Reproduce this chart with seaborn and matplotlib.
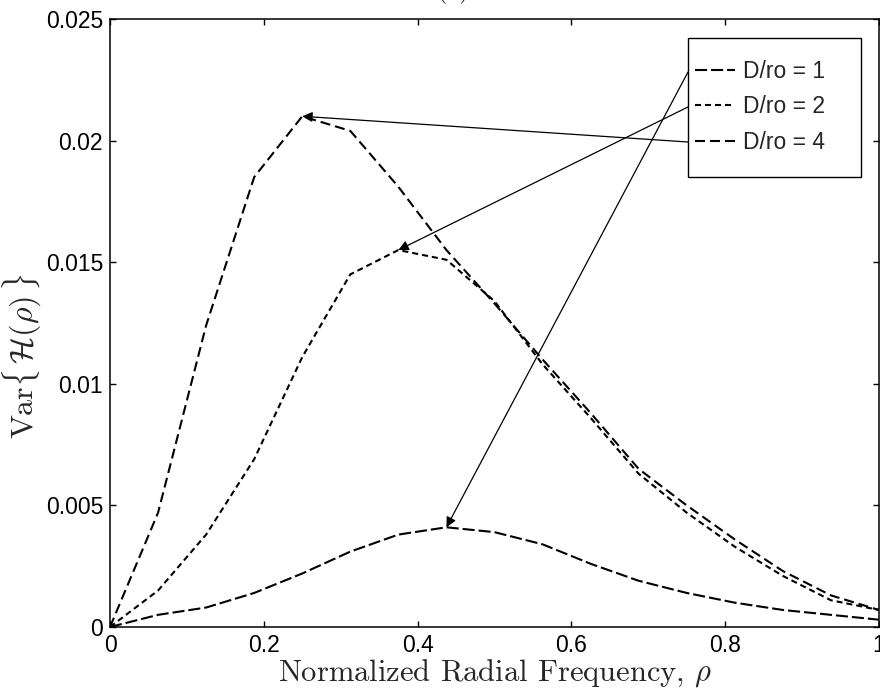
import matplotlib
matplotlib.use("Agg")
import matplotlib.pyplot as plt
from matplotlib.patches import Rectangle
from matplotlib.ticker import FuncFormatter
import seaborn as sns
import pandas as pd
import numpy as np

# values (17 samples, step 1/16)
rho = [0, 0.0625, 0.125, 0.1875, 0.25, 0.3125, 0.375, 0.4375, 0.5,
       0.5625, 0.625, 0.6875, 0.75, 0.8125, 0.875, 0.9375, 1.0]
var_d1 = [0, 0.0005, 0.0008, 0.0014, 0.0022, 0.0031, 0.0038, 0.0041, 0.0039,
          0.0034, 0.0026, 0.0019, 0.0014, 0.0010, 0.0007, 0.0005, 0.0003]
var_d2 = [0, 0.0015, 0.0038, 0.0069, 0.0111, 0.0145, 0.0155, 0.0151, 0.0134,
          0.0108, 0.0086, 0.0063, 0.0047, 0.0033, 0.0021, 0.0011, 0.0007]
var_d4 = [0, 0.0047, 0.0124, 0.0185, 0.0210, 0.0204, 0.0181, 0.0155, 0.0133,
          0.0110, 0.0088, 0.0065, 0.0050, 0.0036, 0.0023, 0.0013, 0.0007]
labels = ["D/ro = 1", "D/ro = 2", "D/ro = 4"]
x_ticks = [0, 0.2, 0.4, 0.6, 0.8, 1.0]
y_ticks = [0, 0.005, 0.01, 0.015, 0.02, 0.025]

sns.set_style("ticks")
plt.rcParams["font.family"] = ["Liberation Sans", "DejaVu Sans"]
plt.rcParams["mathtext.fontset"] = "cm"

series = [var_d1, var_d2, var_d4]
df = pd.DataFrame({
    "rho": rho * 3,
    "var": var_d1 + var_d2 + var_d4,
    "case": [lab for lab in labels for _ in rho],
})

fig = plt.figure(figsize=(8.8, 6.94), dpi=100)
ax = fig.add_axes([110 / 880, 67 / 694, 769 / 880, 608 / 694])

dash_map = {labels[0]: (5.8, 1.9), labels[1]: (2.9, 1.9), labels[2]: (4.8, 2.4)}
sns.lineplot(data=df, x="rho", y="var", style="case", style_order=labels,
             dashes=dash_map, color="k", lw=1.5, ax=ax)

ax.set_xlim(0, 1)
ax.set_ylim(0, 0.025)
ax.set_xticks(x_ticks)
ax.set_yticks(y_ticks)
fmt = FuncFormatter(lambda v, p: f"{v:g}")
ax.xaxis.set_major_formatter(fmt)
ax.yaxis.set_major_formatter(fmt)
ax.tick_params(direction="in", top=True, right=True, length=4.5, width=1,
               labelsize=16.5, pad=5, colors="k")
for sp in ax.spines.values():
    sp.set_linewidth(1.1)
    sp.set_color("k")

ax.set_xlabel(r"Normalized Radial Frequency, $\rho$", family="cmr10",
              fontsize=22, labelpad=0)
ax.set_ylabel(r"Var$\{\,\mathcal{H}(\rho)\,\}$", family="cmr10",
              fontsize=23)
ax.yaxis.set_label_coords(-0.087, 0.446)

# legend box drawn by hand (MATLAB style padding)
ax.add_patch(Rectangle((0.7516, 0.740), 0.225, 0.2288, transform=ax.transAxes,
                       facecolor="white", edgecolor="k", lw=1.0, zorder=4))
handles, _ = ax.get_legend_handles_labels()
ax.legend(handles, labels, loc="center left", bbox_to_anchor=(0.7607, 0.8553),
          frameon=False, fontsize=16.5, handlelength=1.75, handletextpad=0.35,
          labelspacing=0.53, borderpad=0, borderaxespad=0).set_zorder(6)

# arrows from legend entries to each curve's peak
tails_y = [0.9128, 0.8553, 0.7977]
for vals, ty in zip(series, tails_y):
    i = int(np.argmax(vals))
    ax.annotate("", xy=(rho[i], vals[i]), xycoords="data",
                xytext=(0.7516, ty), textcoords="axes fraction",
                arrowprops=dict(arrowstyle="-|>", color="k", lw=0.9,
                                shrinkA=0, shrinkB=0, mutation_scale=15),
                zorder=5)

fig.text(453 / 880, 1 - 4 / 694, "(a)", ha="center", va="bottom",
         family="cmr10", fontsize=19)

fig.savefig("out.png", dpi=100)
